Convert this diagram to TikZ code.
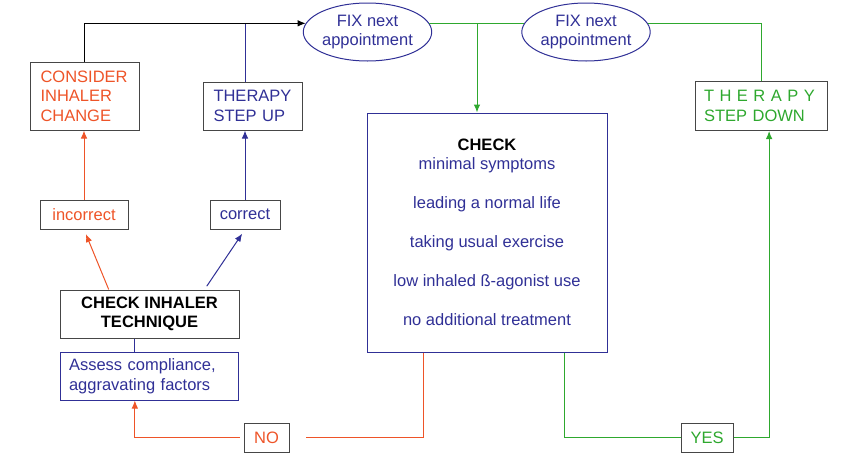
\documentclass[tikz,border=0pt]{standalone}
\usepackage{fontspec}
\setmainfont{Liberation Sans}
\usepackage{tikz}
\usetikzlibrary{shapes,%
                arrows.meta}
\definecolor{rd}{RGB}{238,84,40}
\definecolor{bl}{RGB}{48,48,150}
\definecolor{gr}{RGB}{46,168,46}
\definecolor{bx}{RGB}{70,70,70}

\begin{document}
\begin{tikzpicture}[x=1pt,y=-1pt,
  every node/.style={font=\fontsize{16.5}{19.5}\selectfont},
  box/.style={draw=bx,line width=1pt,rectangle,inner sep=0pt},
  fix/.style={draw=bl,line width=1pt,ellipse,inner sep=0pt,text=bl,align=center},
  rl/.style={draw=rd,line width=1pt},
  bll/.style={draw=bl,line width=1pt},
  gl/.style={draw=gr,line width=1pt},
  bk/.style={draw=black,line width=1pt},
  >={Latex[length=8pt,width=6.5pt]}]

  \useasboundingbox (0,0) rectangle (862,453);

  \node[box,text=rd,minimum width=109pt,minimum height=68pt,text width=88pt,align=left] (cons) at (84.5,96) {CONSIDER\\INHALER\\CHANGE};
  \node[box,text=bl,minimum width=99pt,minimum height=48pt,text width=78pt,align=left] (stepup) at (252.5,106) {THERAPY\\STEP UP};
  \node[box,text=gr,minimum width=132pt,minimum height=49pt,text width=114pt,align=left] (stepdown) at (761,106) {T H E R A P Y\\STEP DOWN};
  \node[box,text=rd,minimum width=88pt,minimum height=29pt] (incorrect) at (84,214.5) {incorrect};
  \node[box,text=bl,minimum width=70pt,minimum height=29pt] (correct) at (245,214.5) {correct};
  \node[box,font=\fontsize{16.5}{19.5}\selectfont\bfseries,minimum width=179pt,minimum height=48pt,align=center] (inh) at (149.5,314) {CHECK INHALER\\TECHNIQUE};
  \node[box,draw=bl,text=bl,minimum width=178pt,minimum height=48pt,text width=160pt,align=left] (assess) at (149,376) {Assess compliance,\\aggravating factors};
  \node[box,draw=bl,text=bl,minimum width=240pt,minimum height=239pt,align=center] (check) at (487,232.5)
    {{\bfseries\color{black}CHECK}\\minimal symptoms\\[19.5pt]leading a normal life\\[19.5pt]taking usual exercise\\[19.5pt]low inhaled ß-agonist use\\[19.5pt]no additional treatment};
  \node[box,text=rd,minimum width=45pt,minimum height=29pt] (no) at (266.5,437.5) {NO};
  \node[box,text=gr,minimum width=52pt,minimum height=29pt] (yes) at (707,437.5) {YES};
  \node[fix,minimum width=125pt,minimum height=58pt] (e1) at (367.5,32) {FIX next\\appointment};
  \node[fix,minimum width=122pt,minimum height=58pt] (e2) at (586,32) {FIX next\\appointment};

  \coordinate (j1) at (245,23.6);
  \coordinate (j2) at (477,23.6);

  \draw[bk,->] (cons.north) |- (e1.172);
  \draw[bll] (stepup.north -| j1) -- (j1);
  \draw[rl,->] (incorrect.north) -- (incorrect.north |- cons.south);
  \draw[bll,->] (correct.north) -- (correct.north |- stepup.south);
  \draw[rl,->,shorten >=5pt] (inh.149) -- (incorrect.south);
  \draw[bll,->,shorten >=5pt,shorten <=4pt] (inh.24) -- (correct.south);
  \draw[bll] (inh.239) -- (inh.239 |- assess.north);
  \draw[rl,shorten >=16pt] (check.242) |- (no.east);
  \draw[rl,->,shorten <=4pt] (no.west) -| (assess.240);
  \draw[gl] (check.303) |- (yes.west);
  \draw[gl,->] (yes.east) -| (stepdown.288);
  \draw[gl] (e1.8) -- (e2.172);
  \draw[gl,->] (j2) -- (j2 |- check.north);
  \draw[gl] (e2.8) -| (stepdown.north);

\end{tikzpicture}
\end{document}
